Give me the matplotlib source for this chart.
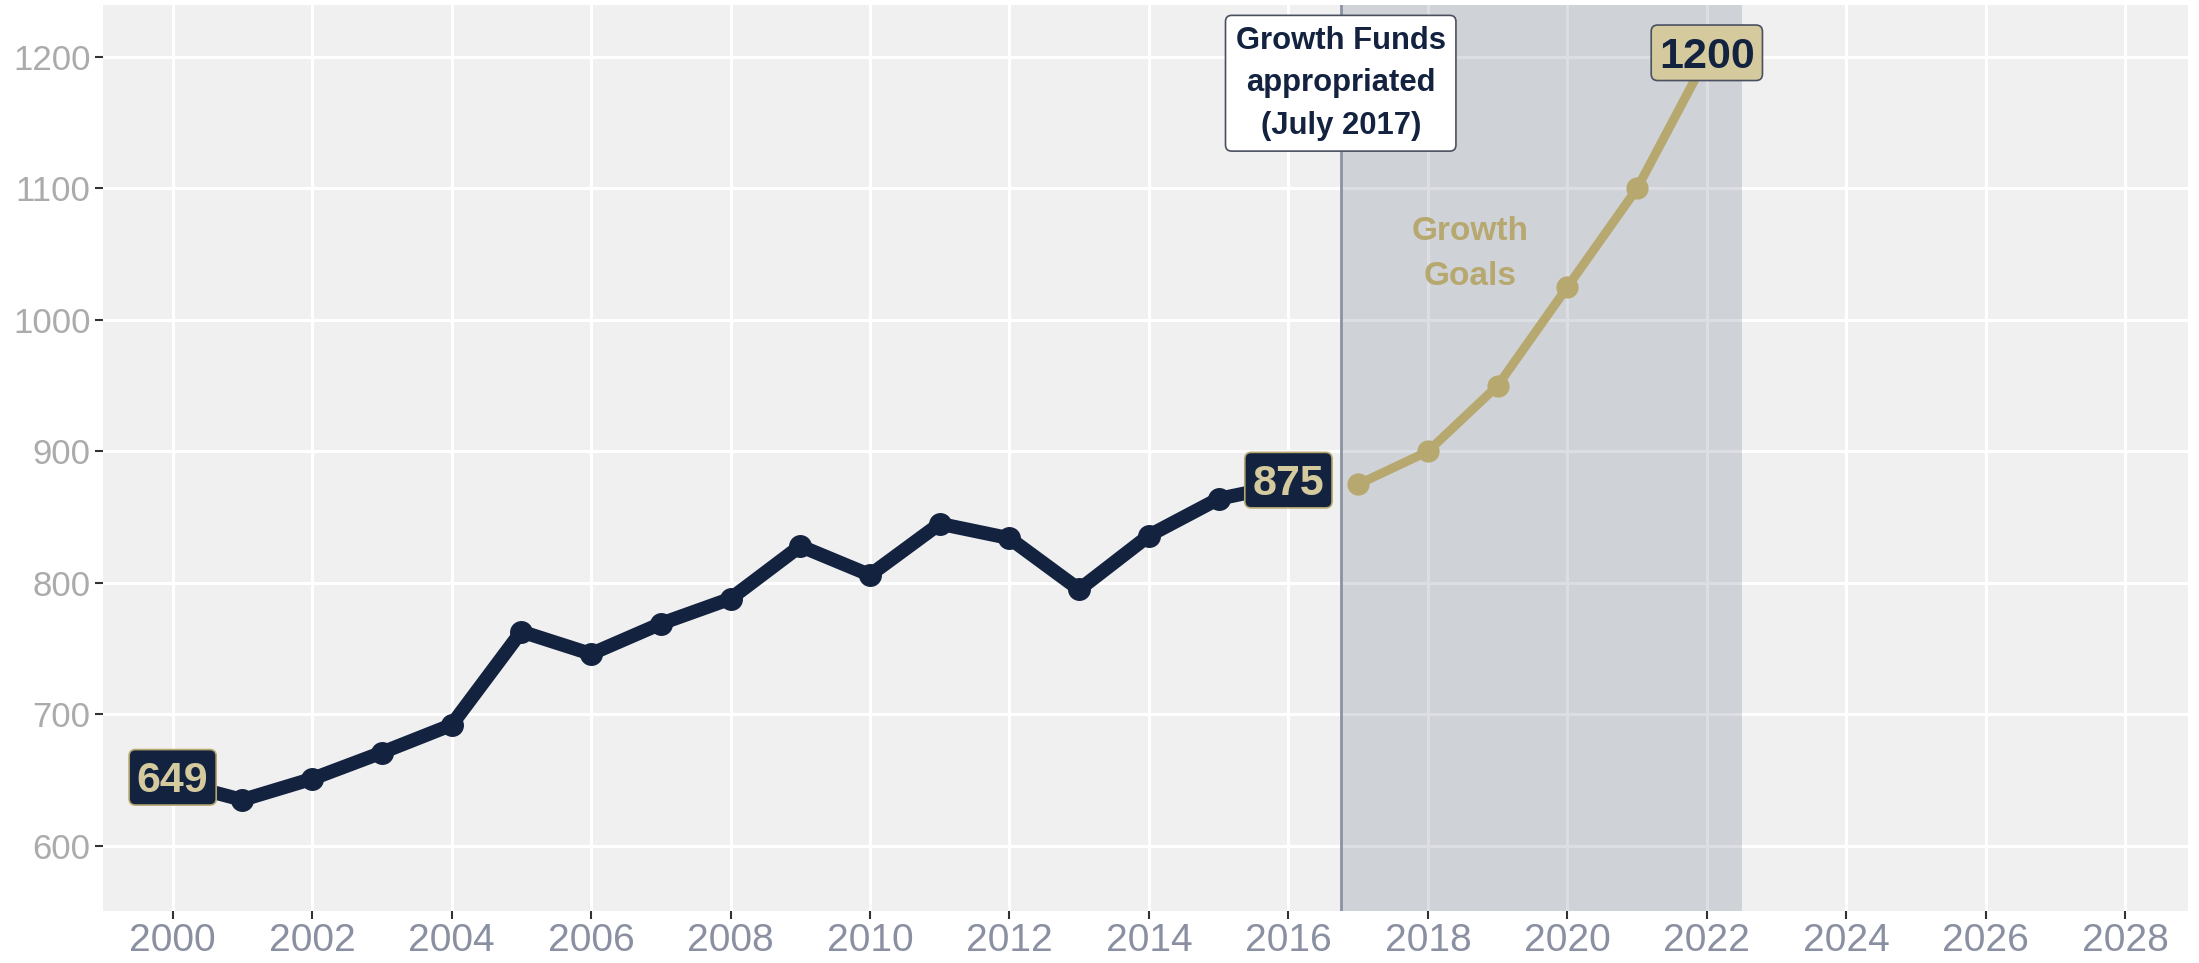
import matplotlib
matplotlib.use("Agg")
import matplotlib.pyplot as plt

plt.rcParams['font.family'] = ['Liberation Sans', 'DejaVu Sans']

NAVY = '#13223F'
GOLD = '#B7A86F'
GOLD_LIGHT = '#D4CA9E'

# enrollment history
hist_years = [2000, 2001, 2002, 2003, 2004, 2005, 2006, 2007, 2008,
              2009, 2010, 2011, 2012, 2013, 2014, 2015, 2016]
hist_values = [649, 635, 651, 671, 692, 763, 746, 769, 788,
               828, 806, 845, 834, 795, 836, 864, 875]

# growth goals
goal_years = [2017, 2018, 2019, 2020, 2021, 2022]
goal_values = [875, 900, 950, 1025, 1100, 1200]

x_ticks = list(range(2000, 2029, 2))
y_ticks = list(range(600, 1201, 100))

funds_year = 2016.75
goal_end = 2022.5

fig = plt.figure(figsize=(21.99, 9.63), dpi=100)
ax = fig.add_axes([0.0468, 0.054, 0.9482, 0.9408])
ax.set_facecolor('#F0F0F0')
ax.set_xlim(1999.0, 2028.9)
ax.set_ylim(550.5, 1239.5)

ax.grid(True, color='white', linewidth=2.2, zorder=0)
ax.set_axisbelow(True)
for s in ax.spines.values():
    s.set_visible(False)

ax.set_xticks(x_ticks)
ax.set_yticks(y_ticks)
ax.tick_params(axis='x', length=6, width=1.5, color='#333333',
               labelsize=28, labelcolor='#8A90A2', pad=3)
ax.tick_params(axis='y', length=6, width=1.5, color='#333333',
               labelsize=25, labelcolor='#ABABAB', pad=3)

# shaded goal period + appropriation line
ax.axvspan(funds_year, goal_end, color=NAVY, alpha=0.145, linewidth=0, zorder=1)
ax.axvline(funds_year, color='#8A93A3', linewidth=2, zorder=2)

ax.plot(hist_years, hist_values, color=NAVY, linewidth=10, marker='o',
        markersize=15.5, solid_capstyle='round', zorder=3)
ax.plot(goal_years, goal_values, color=GOLD, linewidth=6.5, marker='o',
        markersize=15, zorder=3)


def value_label(x, y, txt, fg, bg, edge):
    # box drawn from an invisible copy raised a little, so the digits sit centred
    ax.annotate(txt, (x, y), xytext=(0, 3), textcoords='offset points',
                fontsize=31, fontweight='bold', ha='center', va='center',
                color='none', zorder=5,
                bbox=dict(boxstyle='round,pad=0.18,rounding_size=0.15',
                          fc=bg, ec=edge, lw=1.2))
    ax.text(x, y, txt, fontsize=31, fontweight='bold', ha='center',
            va='center', color=fg, zorder=6)


value_label(hist_years[0], hist_values[0], str(hist_values[0]), GOLD_LIGHT, NAVY, GOLD)
value_label(hist_years[-1], hist_values[-1], str(hist_values[-1]), GOLD_LIGHT, NAVY, GOLD)
value_label(goal_years[-1], goal_values[-1], str(goal_values[-1]), NAVY, GOLD_LIGHT, '#4A5060')

ax.text(funds_year, 1180, 'Growth Funds\nappropriated\n(July 2017)', color=NAVY,
        fontsize=22.3, fontweight='bold', ha='center', va='center', linespacing=1.55,
        bbox=dict(boxstyle='round,pad=0.33,rounding_size=0.2', fc='white', ec='#4A5060', lw=1.2),
        zorder=5)

ax.text(2018.6, 1050, 'Growth\nGoals', color=GOLD, fontsize=24, fontweight='bold',
        ha='center', va='center', linespacing=1.6, zorder=4)

fig.savefig('out.png', dpi=100)
